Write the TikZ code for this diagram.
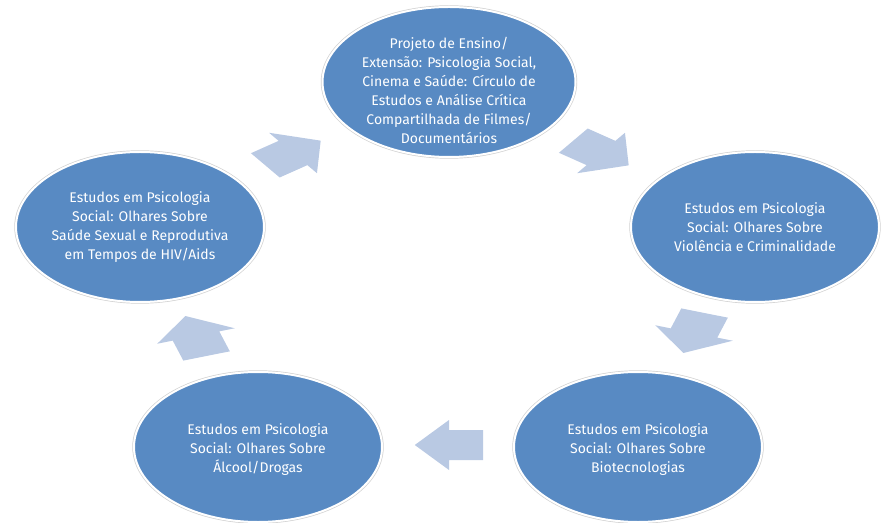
\documentclass[tikz,border=0pt]{standalone}
\usepackage{fontspec}
\setmainfont{Fira Sans}
\usetikzlibrary{shapes.geometric}

\definecolor{cycblue}{RGB}{88,138,195}
\definecolor{arrowblue}{RGB}{185,201,227}

\tikzset{
  bubble/.style={ellipse, fill=cycblue, draw=white, line width=2pt,
    preaction={draw=black!18, line width=3.4pt},
    minimum width=248pt, minimum height=150pt, inner sep=0pt},
  bubbletext/.style={text=white, align=center, inner sep=0pt,
    font=\fontsize{14}{19}\selectfont}
}

% block arrow, drawn round its centre, then stretched like the rest of the cycle
\newcommand{\cyclearrow}[3]{%
  \begin{scope}[shift={(#1,#2)},xscale=1.63,rotate=#3]
    \fill[arrowblue] (-21,-15) -- (0,-15) -- (0,-25) -- (21,0) -- (0,25)
      -- (0,15) -- (-21,15) -- cycle;
  \end{scope}}

\begin{document}
\begin{tikzpicture}[x=1pt,y=1pt]
  \useasboundingbox (0,0) rectangle (882,522);

  \cyclearrow{293}{369}{36}
  \cyclearrow{601}{369}{-36}
  \cyclearrow{694}{189}{-108}
  \cyclearrow{449}{77}{180}
  \cyclearrow{196}{186}{108}

  \node[bubble, minimum width=253pt] (ensino) at (449,440) {};
  \node[bubble] (violencia) at (755,295) {};
  \node[bubble] (biotec) at (638,75) {};
  \node[bubble] (alcool) at (258,75) {};
  \node[bubble] (saude) at (140,295) {};

  \node[bubbletext] at ([yshift=-8pt]ensino.center) {Projeto de Ensino/\\Extensão: Psicologia Social,\\Cinema e Saúde: Círculo de\\Estudos e Análise Crítica\\Compartilhada de Filmes/\\Documentários};
  \node[bubbletext] at (violencia) {Estudos em Psicologia\\Social: Olhares Sobre\\Violência e Criminalidade};
  \node[bubbletext] at ([yshift=-3pt]biotec.center) {Estudos em Psicologia\\Social: Olhares Sobre\\Biotecnologias};
  \node[bubbletext] at ([yshift=-3pt]alcool.center) {Estudos em Psicologia\\Social: Olhares Sobre\\Álcool/Drogas};
  \node[bubbletext] at (saude) {Estudos em Psicologia\\Social: Olhares Sobre\\Saúde Sexual e Reprodutiva\\em Tempos de HIV/Aids};
\end{tikzpicture}
\end{document}
